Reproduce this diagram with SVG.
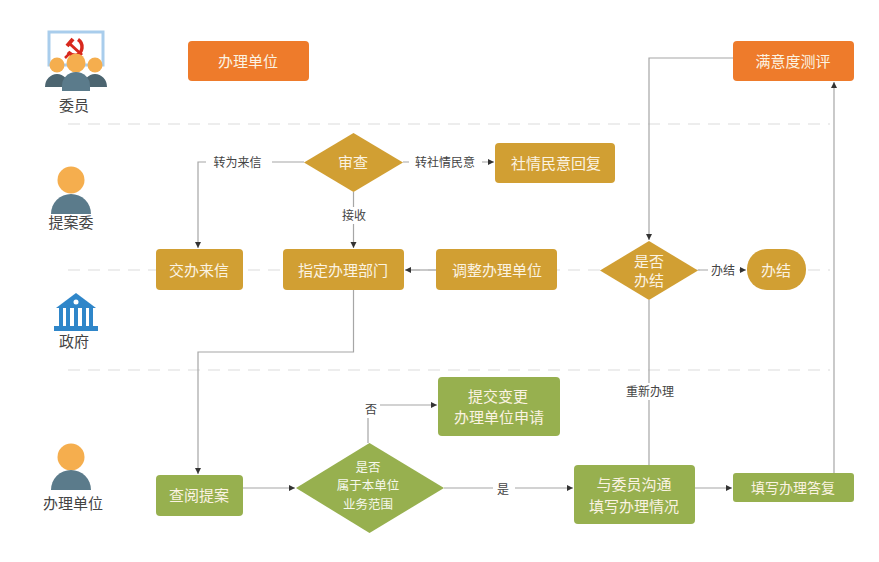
<svg xmlns="http://www.w3.org/2000/svg" width="879" height="562" viewBox="0 0 879 562">
<defs>
<style>
text{font-family:"Noto Sans CJK SC","Liberation Sans",sans-serif;text-anchor:middle;dominant-baseline:central}
.w{fill:#fbf3e2;font-size:15px}
.ws{fill:#f6f8ec;font-size:12.5px}
.l{fill:#444;font-size:12px}
.who{fill:#444;font-size:15px}
.o{fill:#ee7b2b}.y{fill:#d19f33}.g{fill:#97b04f}
.e{fill:none;stroke:#a6a6a6;stroke-width:1.2}
.d{fill:none;stroke:#e8e8e8;stroke-width:1.5;stroke-dasharray:12 8}
.bg{fill:#fff}
.head{fill:#f5ae4e}.b1{fill:#4c6570}.b2{fill:#5b7b8b}
.r{fill:none;stroke:#d8281d}
.gov{fill:#2f86c9}
</style>
<marker id="a" markerWidth="7" markerHeight="7" refX="6" refY="3" orient="auto" markerUnits="userSpaceOnUse"><path d="M0 0L6 3L0 6Z" fill="#333"/></marker>
</defs>
<rect width="879" height="562" fill="#fff"/>
<g id="lanes">
<path class="d" d="M68 124H830"/>
<path class="d" d="M68 270H830"/>
<path class="d" d="M68 370H830"/>
</g>
<g id="connectors">
<path class="e" d="M304 162H198V248" marker-end="url(#a)"/>
<path class="e" d="M403 162H494" marker-end="url(#a)"/>
<path class="e" d="M353.500 192V248" marker-end="url(#a)"/>
<path class="e" d="M436 270H405" marker-end="url(#a)"/>
<path class="e" d="M698 270H746" marker-end="url(#a)"/>
<path class="e" d="M733 58H649V240" marker-end="url(#a)"/>
<path class="e" d="M649 465V300"/>
<path class="e" d="M353.500 290V352H198V474" marker-end="url(#a)"/>
<path class="e" d="M243 488H295" marker-end="url(#a)"/>
<path class="e" d="M368 443V405H437" marker-end="url(#a)"/>
<path class="e" d="M444 488H573" marker-end="url(#a)"/>
<path class="e" d="M695 488H732" marker-end="url(#a)"/>
<path class="e" d="M834 473V82" marker-end="url(#a)"/>
<rect class="bg" x="206" y="153" width="66" height="18"/>
<text class="l" x="237.500" y="161">转为来信</text>
<rect class="bg" x="409" y="153" width="73" height="18"/>
<text class="l" x="445" y="161">转社情民意</text>
<rect class="bg" x="340" y="207" width="28" height="17"/>
<text class="l" x="354" y="214">接收</text>
<rect class="bg" x="708" y="262" width="31" height="16"/>
<text class="l" x="723" y="269">办结</text>
<rect class="bg" x="622" y="383" width="55" height="17"/>
<text class="l" x="650" y="390">重新办理</text>
<rect class="bg" x="362" y="398" width="18" height="20"/>
<text class="l" x="371" y="408">否</text>
<rect class="bg" x="493" y="481" width="22" height="16"/>
<text class="l" x="503" y="488">是</text>
</g>
<g id="role-weiyuan">
<rect x="49" y="32" width="54" height="33" fill="#fff" stroke="#a9cdec" stroke-width="3"/>
<path class="r" stroke-width="3.500" d="M78 39.500A9 9 0 0 1 76 55.500A11 11 0 0 1 68 52"/>
<path class="r" stroke-width="2.500" d="M65 58L69 54"/>
<path class="r" stroke-width="3" d="M70 44L82 55"/>
<path class="r" stroke-width="4" d="M67 46L73 39"/>
<circle class="head" cx="57" cy="65" r="7.500"/>
<circle class="head" cx="95" cy="65" r="7.500"/>
<path class="b1" d="M45 87a12 13 0 0 1 24 0zM83 87a12 13 0 0 1 24 0z"/>
<circle class="head" cx="76" cy="63" r="9.500"/>
<path class="b2" d="M62 91V86a14 14 0 0 1 28 0V91z"/>
<text class="who" x="74" y="104">委员</text>
</g>
<g id="role-tianweihui">
<circle class="head" cx="71" cy="180" r="13.500"/>
<path class="b2" d="M51 214a20 20 0 0 1 40 0z"/>
<text class="who" x="71" y="221">提案委</text>
</g>
<g id="role-zhengfu">
<path class="gov" d="M76 293L96 308H56Z"/>
<circle cx="76" cy="302" r="2.500" fill="#fff"/>
<path class="gov" d="M59 308h4v18h-4zM66 308h4v18h-4zM74 308h4v18h-4zM82 308h4v18h-4zM89 308h4v18h-4z"/>
<rect class="gov" x="54" y="326" width="44" height="5"/>
<text class="who" x="74" y="340">政府</text>
</g>
<g id="role-banli">
<circle class="head" cx="71" cy="457" r="13.500"/>
<path class="b2" d="M51 490a20 20 0 0 1 40 0z"/>
<text class="who" x="73" y="502">办理单位</text>
</g>
<g id="n1"><rect class="o" x="188" y="41" width="121" height="40" rx="4"/><text class="w" x="248" y="60">办理单位</text></g>
<g id="n2"><rect class="o" x="733" y="41" width="121" height="40" rx="4"/><text class="w" x="793" y="60">满意度测评</text></g>
<g id="n3"><path class="y" d="M353.500 133L403 162.500L353.500 192L304 162.500Z"/><text class="w" x="353" y="161">审查</text></g>
<g id="n4"><rect class="y" x="495" y="143" width="120" height="40" rx="4"/><text class="w" x="556" y="162">社情民意回复</text></g>
<g id="n5"><rect class="y" x="156" y="249" width="87" height="41" rx="4"/><text class="w" x="199" y="269">交办来信</text></g>
<g id="n6"><rect class="y" x="283" y="249" width="121" height="41" rx="4"/><text class="w" x="343" y="269">指定办理部门</text></g>
<g id="n7"><rect class="y" x="436" y="249" width="121" height="41" rx="4"/><text class="w" x="497" y="269">调整办理单位</text></g>
<g id="n8"><path class="y" d="M649 241L698 270.500L649 300L600 270.500Z"/><text class="w" x="649" y="260">是否</text><text class="w" x="649" y="279">办结</text></g>
<g id="n9"><rect class="y" x="747" y="249" width="59" height="41" rx="20"/><text class="w" x="776" y="269">办结</text></g>
<g id="n10"><rect class="g" x="438" y="377" width="122" height="59" rx="4"/><text class="w" x="498" y="395">提交变更</text><text class="w" x="499" y="416">办理单位申请</text></g>
<g id="n11"><path class="g" d="M369.500 443L444 488L369.500 533L296 488Z"/><text class="ws" x="368" y="466">是否</text><text class="ws" x="368" y="484">属于本单位</text><text class="ws" x="368" y="503">业务范围</text></g>
<g id="n12"><rect class="g" x="156" y="475" width="87" height="41" rx="4"/><text class="w" x="199" y="494">查阅提案</text></g>
<g id="n13"><rect class="g" x="574" y="465" width="121" height="59" rx="4"/><text class="w" x="634" y="483">与委员沟通</text><text class="w" x="634" y="505">填写办理情况</text></g>
<g id="n14"><rect class="g" x="733" y="473" width="121" height="29" rx="3"/><text class="w" x="793" y="487" style="font-size:14px">填写办理答复</text></g>
</svg>
